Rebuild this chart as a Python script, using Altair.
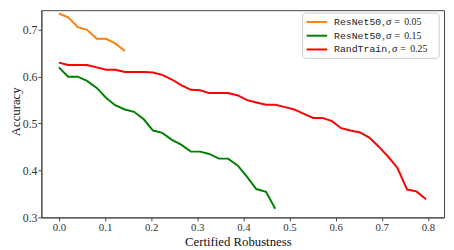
import altair as alt
import pandas as pd

# ---- data ----
x_grid = [0.000, 0.020, 0.041, 0.061, 0.082, 0.102, 0.122, 0.143, 0.163, 0.184,
          0.204, 0.224, 0.245, 0.265, 0.286, 0.306, 0.326, 0.347, 0.367, 0.388,
          0.408, 0.428, 0.449, 0.469, 0.490, 0.510, 0.530, 0.551, 0.571, 0.592,
          0.612, 0.632, 0.653, 0.673, 0.694, 0.714, 0.734, 0.755, 0.775, 0.796]

orange_y = [0.735, 0.727, 0.706, 0.700, 0.681, 0.681, 0.671, 0.655]

green_y = [0.620, 0.600, 0.600, 0.591, 0.576, 0.555, 0.539, 0.530, 0.525, 0.509,
           0.485, 0.480, 0.465, 0.455, 0.440, 0.440, 0.435, 0.425, 0.425, 0.410,
           0.386, 0.360, 0.354, 0.318]

red_y = [0.630, 0.625, 0.625, 0.625, 0.620, 0.615, 0.615, 0.610, 0.610, 0.610,
         0.609, 0.604, 0.594, 0.582, 0.572, 0.571, 0.565, 0.565, 0.565, 0.560,
         0.550, 0.545, 0.540, 0.540, 0.535, 0.530, 0.521, 0.512, 0.512, 0.505,
         0.490, 0.485, 0.481, 0.470, 0.450, 0.429, 0.405, 0.359, 0.355, 0.338]

model_names = ["ResNet50", "ResNet50", "RandTrain"]
sigmas = ["0.05", "0.15", "0.25"]
colors = ["#ff7f0e", "#008000", "#ff0000"]
series_labels = [f"{m}, σ = {s}" for m, s in zip(model_names, sigmas)]

x_ticks = [0.0, 0.1, 0.2, 0.3, 0.4, 0.5, 0.6, 0.7, 0.8]
y_ticks = [0.3, 0.4, 0.5, 0.6, 0.7]

rows = []
for lbl, ys in zip(series_labels, [orange_y, green_y, red_y]):
    for x, y in zip(x_grid, ys):
        rows.append({"series": lbl, "x": x, "y": y})
df = pd.DataFrame(rows)
one = pd.DataFrame({"k": [0]})

W, H = 410, 211
SERIF = "Liberation Serif"
MONO = "Liberation Mono"

lines = alt.Chart(df).mark_line(strokeWidth=2, clip=True).encode(
    x=alt.X("x:Q",
            scale=alt.Scale(domain=[-0.038, 0.835], nice=False, zero=False),
            axis=alt.Axis(values=x_ticks, format=".1f", title="Certified Robustness",
                          labelFontSize=11, labelPadding=1,
                          titleX=200, titleY=28.5, titleBaseline="alphabetic")),
    y=alt.Y("y:Q",
            scale=alt.Scale(domain=[0.2995, 0.7421], nice=False, zero=False),
            axis=alt.Axis(values=y_ticks, format=".1f", title="Accuracy",
                          labelFontSize=12, labelPadding=1,
                          titleX=-22, titleY=103, titleBaseline="alphabetic")),
    color=alt.Color("series:N", scale=alt.Scale(domain=series_labels, range=colors),
                    legend=None),
)

# ---- custom legend (mixed mono / serif text like the reference) ----
# legend offsets are relative to the plot's left edge (page x 42)
LX = -5
legend_layers = [
    alt.Chart(one).mark_rect(fill="white", fillOpacity=0.9, stroke="#cccccc",
                             strokeWidth=1, cornerRadius=3).encode(
        x=alt.value(271 + LX), x2=alt.value(410 + LX), y=alt.value(3), y2=alt.value(49))
]
row_y = [12, 26, 40]
for i in range(3):
    yy = row_y[i]
    name = model_names[i]
    off = 303 + LX + 6 * len(name)
    legend_layers.append(
        alt.Chart(one).mark_rule(color=colors[i], strokeWidth=2).encode(
            x=alt.value(275 + LX), x2=alt.value(296 + LX), y=alt.value(yy)))
    legend_layers.append(
        alt.Chart(one).mark_text(text=name, font=MONO, fontSize=10, align="left",
                                 baseline="middle", color="#222").encode(
            x=alt.value(303 + LX), y=alt.value(yy)))
    legend_layers.append(
        alt.Chart(one).mark_text(text=",", font=SERIF, fontSize=10, align="left",
                                 baseline="middle", color="#222").encode(
            x=alt.value(off + 1), y=alt.value(yy)))
    legend_layers.append(
        alt.Chart(one).mark_text(text="σ", font=SERIF, fontStyle="italic", fontSize=11,
                                 align="left", baseline="middle", color="#222").encode(
            x=alt.value(off + 5), y=alt.value(yy)))
    legend_layers.append(
        alt.Chart(one).mark_text(text="=", font=SERIF, fontSize=10, align="left",
                                 baseline="middle", color="#222").encode(
            x=alt.value(off + 13.5), y=alt.value(yy)))
    legend_layers.append(
        alt.Chart(one).mark_text(text=sigmas[i], font=SERIF, fontSize=10, align="left",
                                 baseline="middle", color="#222").encode(
            x=alt.value(off + 23.5), y=alt.value(yy)))

chart = alt.layer(lines, *legend_layers).properties(
    width=W, height=H,
    padding={"left": 34, "top": 0, "right": 2, "bottom": 31},
    autosize=alt.AutoSizeParams(type="none"),
).configure_view(
    stroke="#444444", strokeWidth=1
).configure_axis(
    labelFont=SERIF, labelColor="#333333",
    titleFont=SERIF, titleFontSize=13, titleFontWeight="normal", titleColor="#111111",
    tickColor="#444444", tickSize=3.5, domainColor="#444444", grid=False,
)

chart.save("out.html", embed_options={"renderer": "svg", "actions": False})
